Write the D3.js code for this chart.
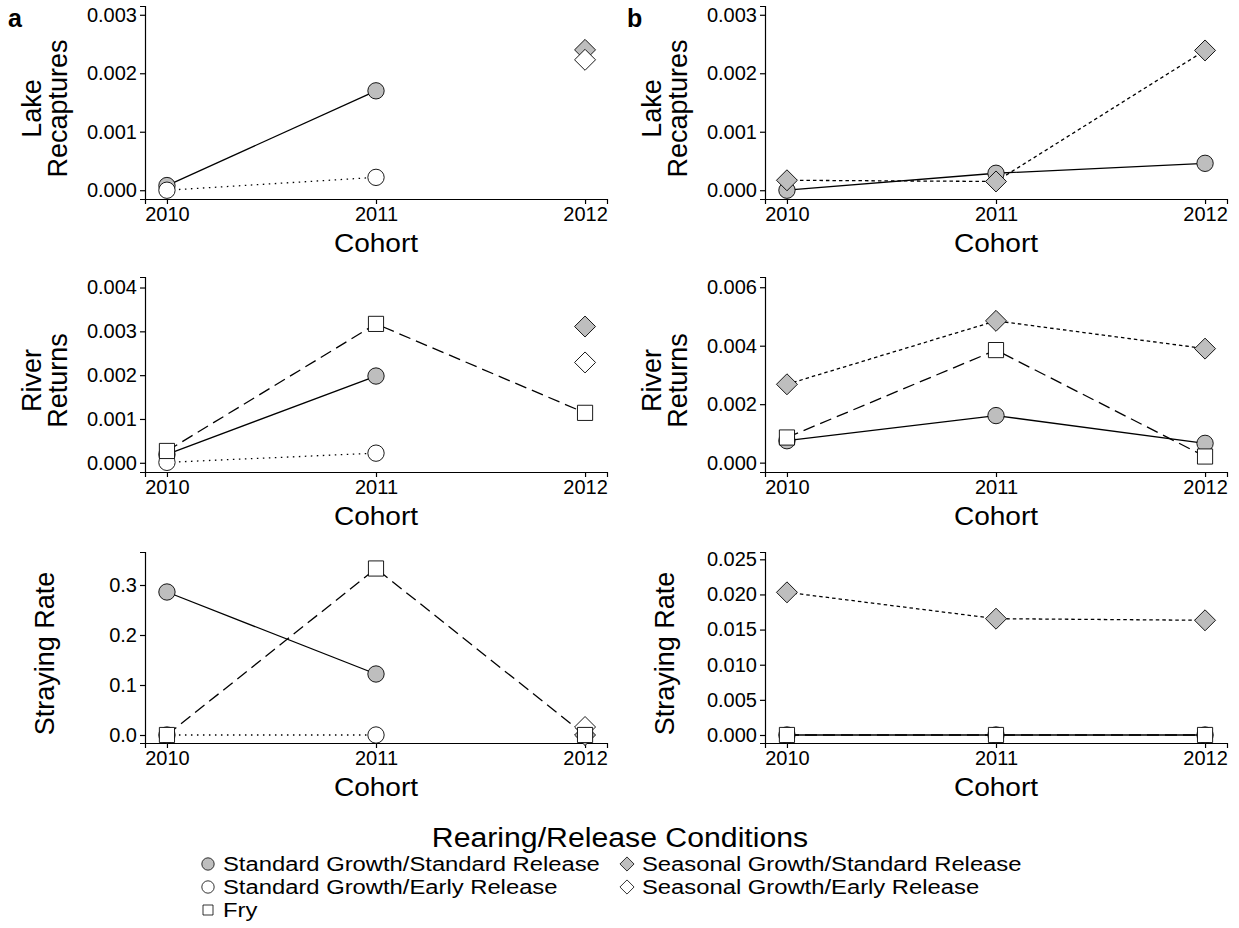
<!DOCTYPE html>
<html>
<head>
<meta charset="utf-8">
<script src="https://cdn.jsdelivr.net/npm/d3@7"></script>
<style>
  html, body { margin: 0; padding: 0; background: #fff; }
  svg { display: block; font-family: "Liberation Sans", Arial, Helvetica, sans-serif; }
</style>
</head>
<body>
<svg id="chart" width="1239" height="928"></svg>
<script>
// Cohort years on the x axis
const cohorts = [2010, 2011, 2012];

// Rearing/release groups (legend order)
const groups = [
  "Standard Growth/Standard Release",
  "Standard Growth/Early Release",
  "Seasonal Growth/Standard Release",
  "Seasonal Growth/Early Release",
  "Fry"
];

// ---- Panel a: Lake Recaptures ----
const lakeA_stdStd   = [0.00008, 0.0017, null];
const lakeA_stdEarly = [0.0, 0.00022, null];
const lakeA_seaStd   = [null, null, 0.0024];
const lakeA_seaEarly = [null, null, 0.00223];
const lakeA_fry      = [null, null, null];

// ---- Panel b: Lake Recaptures ----
const lakeB_stdStd   = [0.0, 0.00029, 0.00046];
const lakeB_seaStd   = [0.00017, 0.00015, 0.00239];

// ---- Panel a: River Returns ----
const riverA_stdStd   = [0.00019, 0.00198, null];
const riverA_stdEarly = [0.00001, 0.00022, null];
const riverA_seaStd   = [null, null, 0.00311];
const riverA_seaEarly = [null, null, 0.00229];
const riverA_fry      = [0.00027, 0.00317, 0.00114];

// ---- Panel b: River Returns ----
const riverB_stdStd = [0.00075, 0.00161, 0.00066];
const riverB_seaStd = [0.00268, 0.00485, 0.0039];
const riverB_fry    = [0.00086, 0.00385, 0.00021];

// ---- Panel a: Straying Rate ----
const strayA_stdStd   = [0.286, 0.122, null];
const strayA_stdEarly = [0.0, 0.0, null];
const strayA_seaStd   = [null, null, 0.0];
const strayA_seaEarly = [null, null, 0.016];
const strayA_fry      = [0.0, 0.333, 0.0];

// ---- Panel b: Straying Rate ----
const strayB_stdStd = [0.0, 0.0, 0.0];
const strayB_seaStd = [0.0203, 0.01655, 0.01632];
const strayB_fry    = [0.0, 0.0, 0.0];

// y-axis tick values per row / column
const lakeTicks    = [0, 0.001, 0.002, 0.003];
const riverTicksA  = [0, 0.001, 0.002, 0.003, 0.004];
const riverTicksB  = [0, 0.002, 0.004, 0.006];
const strayTicksA  = [0, 0.1, 0.2, 0.3];
const strayTicksB  = [0, 0.005, 0.01, 0.015, 0.02, 0.025];

// Visual encoding of each group
const style = {
  "Standard Growth/Standard Release": { shape: "circle",  fill: "#bebebe", dash: null },
  "Standard Growth/Early Release":    { shape: "circle",  fill: "#ffffff", dash: "1.5,4.5" },
  "Seasonal Growth/Standard Release": { shape: "diamond", fill: "#bebebe", dash: "3.5,3" },
  "Seasonal Growth/Early Release":    { shape: "diamond", fill: "#ffffff", dash: "3.5,3" },
  "Fry":                              { shape: "square",  fill: "#ffffff", dash: "12,6" }
};

function series(name, values) { return { name, values }; }

// Panel definitions: grid position, y label, y domain, ticks, series
const panels = [
  { col: 0, row: 0, ylab: ["Lake", "Recaptures"], ydom: [-0.00015, 0.00315], ticks: lakeTicks, fmt: ".3f",
    data: [series(groups[0], lakeA_stdStd), series(groups[1], lakeA_stdEarly), series(groups[2], lakeA_seaStd),
           series(groups[3], lakeA_seaEarly), series(groups[4], lakeA_fry)] },
  { col: 1, row: 0, ylab: ["Lake", "Recaptures"], ydom: [-0.00015, 0.00315], ticks: lakeTicks, fmt: ".3f",
    data: [series(groups[0], lakeB_stdStd), series(groups[2], lakeB_seaStd)] },
  { col: 0, row: 1, ylab: ["River", "Returns"], ydom: [-0.00021, 0.00424], ticks: riverTicksA, fmt: ".3f",
    data: [series(groups[0], riverA_stdStd), series(groups[1], riverA_stdEarly), series(groups[2], riverA_seaStd),
           series(groups[3], riverA_seaEarly), series(groups[4], riverA_fry)] },
  { col: 1, row: 1, ylab: ["River", "Returns"], ydom: [-0.00032, 0.00635], ticks: riverTicksB, fmt: ".3f",
    data: [series(groups[0], riverB_stdStd), series(groups[2], riverB_seaStd), series(groups[4], riverB_fry)] },
  { col: 0, row: 2, ylab: ["Straying Rate"], ydom: [-0.016, 0.366], ticks: strayTicksA, fmt: ".1f",
    data: [series(groups[0], strayA_stdStd), series(groups[1], strayA_stdEarly), series(groups[2], strayA_seaStd),
           series(groups[3], strayA_seaEarly), series(groups[4], strayA_fry)] },
  { col: 1, row: 2, ylab: ["Straying Rate"], ydom: [-0.00114, 0.02604], ticks: strayTicksB, fmt: ".3f",
    data: [series(groups[0], strayB_stdStd), series(groups[2], strayB_seaStd), series(groups[4], strayB_fry)] }
];

// Layout of the panel areas
const colX = [145, 765];        // left edge of each column's plotting area
const plotW = 462;
const rowY = [[6, 199], [277, 472], [552, 743]];  // top/bottom of each row's plotting area
const xPad = 0.105;             // year padding either side of the cohort range

const svg = d3.select("#chart");
const font = "\"Liberation Sans\", Arial, Helvetica, sans-serif";

function symbolPath(shape, size) {
  if (shape === "circle") return d3.symbol(d3.symbolCircle, size)();
  if (shape === "square") return d3.symbol(d3.symbolSquare, size)();
  // diamond drawn as a square turned 45 degrees
  const r = Math.sqrt(size * 2) / 2;
  return `M0,${-r}L${r},0L0,${r}L${-r},0Z`;
}

// Horizontally widened text (the typeface is set a little wide)
function wideText(sel, x, y, sx, anchor) {
  return sel.append("text")
    .attr("transform", `translate(${x},${y}) scale(${sx},1)`)
    .attr("text-anchor", anchor || "start")
    .style("font-family", font);
}

panels.forEach(p => {
  const x0 = colX[p.col];
  const [yTop, yBot] = rowY[p.row];
  const g = svg.append("g");

  const x = d3.scaleLinear()
    .domain([cohorts[0] - xPad, cohorts[cohorts.length - 1] + xPad])
    .range([x0, x0 + plotW]);
  const y = d3.scaleLinear().domain(p.ydom).range([yBot, yTop]);

  // Axes
  const xAxis = d3.axisBottom(x).tickValues(cohorts).tickFormat(d3.format("d")).tickSizeOuter(0).tickSize(5).tickPadding(3);
  const yAxis = d3.axisLeft(y).tickValues(p.ticks).tickFormat(d3.format(p.fmt)).tickSizeOuter(0).tickSize(5).tickPadding(3);

  const gx = g.append("g").attr("transform", `translate(0,${yBot})`).call(xAxis);
  const gy = g.append("g").attr("transform", `translate(${x0},0)`).call(yAxis);
  [gx, gy].forEach(ax => {
    ax.select(".domain").attr("stroke", "#000").attr("stroke-width", 1.2);
    ax.selectAll(".tick line").attr("stroke", "#000").attr("stroke-width", 1.2);
    ax.selectAll(".tick text").attr("fill", "#000").style("font-size", "20px").style("font-family", font);
  });

  // Axis titles
  wideText(g, x(cohorts[1]), yBot + 53, 1.08, "middle")
    .style("font-size", "26px")
    .text("Cohort");

  const yc = (yTop + yBot) / 2 + 6;
  const labLines = p.ylab;
  labLines.forEach((t, i) => {
    const bx = labLines.length === 2 ? (i === 0 ? 41 : 67) : 54;
    g.append("text")
      .attr("transform", `translate(${bx + (p.col === 1 ? 620 : 0)},${yc}) rotate(-90)`)
      .attr("text-anchor", "middle")
      .style("font-size", "27px").style("font-family", font)
      .text(t);
  });

  // Lines
  const line = d3.line()
    .defined(d => d.v !== null)
    .x(d => x(d.year))
    .y(d => y(d.v));

  p.data.forEach(s => {
    const pts = s.values.map((v, i) => ({ year: cohorts[i], v }));
    const st = style[s.name];
    g.append("path")
      .datum(pts)
      .attr("d", line)
      .attr("fill", "none")
      .attr("stroke", "#000")
      .attr("stroke-width", 1.3)
      .attr("stroke-dasharray", st.dash);
  });

  // Points
  p.data.forEach(s => {
    const st = style[s.name];
    const size = st.shape === "circle" ? 210 : st.shape === "square" ? 230 : 220;
    s.values.forEach((v, i) => {
      if (v === null) return;
      g.append("path")
        .attr("d", symbolPath(st.shape, size))
        .attr("transform", `translate(${x(cohorts[i])},${y(v)})`)
        .attr("fill", st.fill)
        .attr("stroke", "#000")
        .attr("stroke-width", 0.9);
    });
  });
});

// Panel letters
svg.append("text").attr("x", 8).attr("y", 27).style("font-size", "25px").style("font-weight", "bold")
  .style("font-family", font).text("a");
svg.append("text").attr("x", 627).attr("y", 27).style("font-size", "25px").style("font-weight", "bold")
  .style("font-family", font).text("b");

// Legend
const legend = svg.append("g");
wideText(legend, 620, 847, 1.12, "middle")
  .style("font-size", "27px")
  .text("Rearing/Release Conditions");

const legendPos = [
  { name: groups[0], x: 208, y: 864 },
  { name: groups[2], x: 627, y: 864 },
  { name: groups[1], x: 208, y: 887 },
  { name: groups[3], x: 627, y: 887 },
  { name: groups[4], x: 208, y: 910 }
];
legendPos.forEach(it => {
  const st = style[it.name];
  const size = st.shape === "circle" ? 120 : st.shape === "square" ? 100 : 100;
  legend.append("path")
    .attr("d", symbolPath(st.shape, size))
    .attr("transform", `translate(${it.x},${it.y})`)
    .attr("fill", st.fill).attr("stroke", "#000").attr("stroke-width", 0.8);
  wideText(legend, it.x + 15, it.y + 7, 1.19, "start")
    .style("font-size", "20px")
    .text(it.name);
});
</script>
</body>
</html>
